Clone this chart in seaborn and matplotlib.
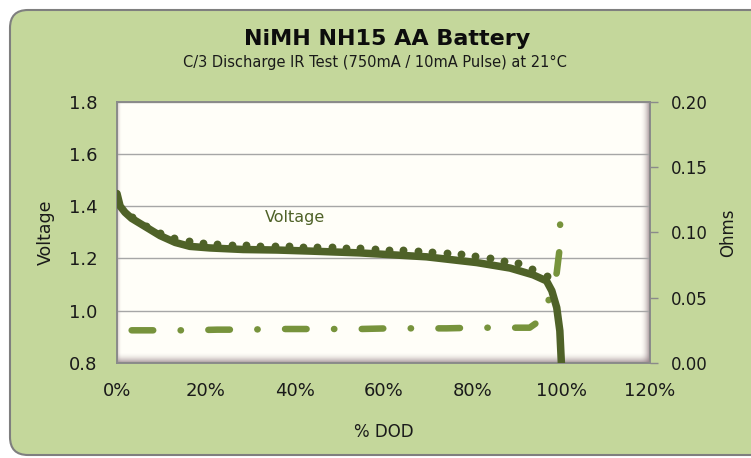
import numpy as np
import pandas as pd
import seaborn as sns
import matplotlib.pyplot as plt
from matplotlib.patches import FancyBboxPatch
from matplotlib.transforms import IdentityTransform


# discharge curve (750mA load), % DOD vs volts
dod = [0.0, 0.7, 1.8, 3.3, 6.7, 9.7, 13.1, 16.4, 20.9, 28.4, 36.0, 43.4, 54.7,
       69.7, 81.0, 88.5, 93.7, 96.7, 97.9, 99.0, 99.7, 100.1]
volts = [1.448, 1.400, 1.376, 1.353, 1.318, 1.287, 1.261, 1.246, 1.240, 1.234, 1.232,
         1.228, 1.221, 1.206, 1.184, 1.163, 1.137, 1.114, 1.076, 1.012, 0.923, 0.780]

# pulse readings (the dots riding above the curve)
pulse_dod = [3.3, 6.5, 9.7, 12.9, 16.1, 19.4, 22.6, 25.8, 29.0, 32.3, 35.5, 38.7,
             41.9, 45.1, 48.4, 51.6, 54.8, 58.0, 61.3, 64.5, 67.7, 70.9, 74.2, 77.4,
             80.6, 83.9, 87.1, 90.3, 93.5, 96.7]
pulse_volts = [1.359, 1.324, 1.298, 1.279, 1.267, 1.260, 1.256, 1.253, 1.251, 1.249,
               1.247, 1.246, 1.244, 1.243, 1.242, 1.241, 1.240, 1.236, 1.234, 1.232,
               1.228, 1.223, 1.219, 1.215, 1.209, 1.201, 1.191, 1.181, 1.161, 1.132]

# internal resistance
ir_dod = [3.3, 9.7, 16.1, 22.6, 29.0, 35.5, 41.9, 48.4, 54.8, 61.3, 67.7, 74.2,
          80.6, 87.1, 92.9, 95.0, 97.3, 99.0, 99.6, 99.8]
ir_ohms = [0.025, 0.025, 0.025, 0.0255, 0.0255, 0.026, 0.026, 0.026, 0.026, 0.0265,
           0.0265, 0.0265, 0.027, 0.027, 0.027, 0.032, 0.049, 0.069, 0.086, 0.110]

xticks = [0, 20, 40, 60, 80, 100, 120]
xticklabels = ['0%', '20%', '40%', '60%', '80%', '100%', '120%']

dark_olive = '#4F6228'
light_olive = '#77933C'
bg_green = '#C4D79B'

df_v = pd.DataFrame({'dod': dod, 'volts': volts})
df_p = pd.DataFrame({'dod': pulse_dod, 'volts': pulse_volts})
df_ir = pd.DataFrame({'dod': ir_dod, 'ohms': ir_ohms})

sns.set_theme(style='white')
plt.rcParams['font.family'] = ['DejaVu Sans']

fig = plt.figure(figsize=(7.51, 4.58), dpi=100)
fig.patch.set_facecolor('white')

# rounded green chart area
frame = FancyBboxPatch((10, 3), 780, 445, boxstyle='round,pad=0,rounding_size=18',
                       transform=IdentityTransform(), facecolor=bg_green,
                       edgecolor='#7f7f7f', linewidth=1.5, zorder=-10)
fig.patches.append(frame)

ax = fig.add_axes([117 / 751, 1 - 363 / 458, 533 / 751, 261.5 / 458])
ax.set_facecolor('#FFFEF8')

# bevel shading at edges of plot area
ramp = np.linspace(0, 1, 40)
shade = np.zeros((40, 1, 4))
shade[:, 0, :3] = (0.55, 0.47, 0.50)
shade[:, 0, 3] = ramp ** 2 * 0.8
ax.imshow(shade, extent=(0, 1, 0, 0.042), transform=ax.transAxes, aspect='auto',
          origin='upper', zorder=0.5)
shade_r = np.zeros((1, 40, 4))
shade_r[0, :, :3] = (0.55, 0.47, 0.50)
shade_r[0, :, 3] = ramp ** 2 * 0.8
ax.imshow(shade_r, extent=(0.982, 1, 0, 1), transform=ax.transAxes, aspect='auto',
          zorder=0.5)
shade_l = np.zeros((1, 20, 4))
shade_l[0, :, :3] = (0.6, 0.5, 0.55)
shade_l[0, :, 3] = ramp[::-2] ** 2 * 0.5
ax.imshow(shade_l, extent=(0, 0.008, 0, 1), transform=ax.transAxes, aspect='auto',
          zorder=0.5)

ax.set_xlim(0, 120)
ax.set_ylim(0.8, 1.8)
ax.set_yticks([0.8, 1.0, 1.2, 1.4, 1.6, 1.8])
ax.set_yticklabels(['0.8', '1.0', '1.2', '1.4', '1.6', '1.8'])
ax.set_xticks(xticks)
ax.set_xticklabels(xticklabels)
ax.yaxis.grid(True, color='#a6a6a6', linewidth=1.0)
ax.set_axisbelow(True)
ax.tick_params(axis='both', length=0, labelsize=13, colors='#1a1a1a')
ax.tick_params(axis='x', pad=14)
ax.tick_params(axis='y', pad=14)
for s in ax.spines.values():
    s.set_color('#8a8a8a')
    s.set_linewidth(1.2)

ax2 = ax.twinx()
ax2.set_ylim(0, 0.20)
ax2.set_yticks([0.0, 0.05, 0.10, 0.15, 0.20])
ax2.set_yticklabels(['0.00', '0.05', '0.10', '0.15', '0.20'])
ax2.tick_params(axis='y', length=6, width=1.0, direction='out',
                labelsize=12, colors='#1a1a1a', pad=9)
ax2.tick_params(axis='y', color='#8a8a8a')
for s in ax2.spines.values():
    s.set_color('#8a8a8a')
    s.set_linewidth(1.2)

# IR dash-dot on secondary axis
sns.lineplot(data=df_ir, x='dod', y='ohms', ax=ax2, color=light_olive, linewidth=4.7,
             linestyle=(0, (3.3, 4.2, 0.05, 4.2)), zorder=2)
for ln in ax2.lines:
    ln.set_dash_capstyle('round')
    ln.set_dash_joinstyle('round')

# voltage curve and pulse dots drawn above
ax3 = ax.twinx()
ax3.set_ylim(0.8, 1.8)
ax3.axis('off')
sns.lineplot(data=df_v, x='dod', y='volts', ax=ax3, color=dark_olive, linewidth=5.4,
             solid_capstyle='round', solid_joinstyle='round', zorder=3)
sns.scatterplot(data=df_p, x='dod', y='volts', ax=ax3, color=dark_olive, s=32,
                linewidth=0, zorder=4)
ax3.set_xlim(0, 120)
ax3.text(40, 1.356, 'Voltage', color=dark_olive, fontsize=11.5, ha='center', va='center')

ax.set_xlabel('% DOD', fontsize=12, color='#1a1a1a', labelpad=16)
ax.set_ylabel('Voltage', fontsize=12.5, color='#1a1a1a', labelpad=10)
ax2.set_ylabel('Ohms', fontsize=12, color='#1a1a1a', labelpad=8)
ax2.set_xlabel('')
ax3.set_xlabel('')
ax3.set_ylabel('')

fig.text(387 / 751, 1 - 39 / 458, 'NiMH NH15 AA Battery', fontsize=16,
         fontweight='bold', ha='center', va='center', color='#0d0d0d')
fig.text(375 / 751, 1 - 62 / 458, 'C/3 Discharge IR Test (750mA / 10mA Pulse) at 21°C',
         fontsize=10.5, ha='center', va='center', color='#1a1a1a')

plt.savefig('out.png', dpi=100)
